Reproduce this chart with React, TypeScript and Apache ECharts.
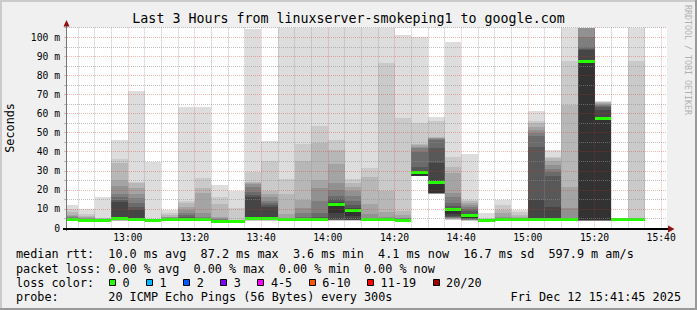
import React, { useEffect, useRef } from "react";
import * as echarts from "echarts";

// ---------- data ----------
const title = "Last 3 Hours from linuxserver-smokeping1 to google.com";
const windowStart = "12:41:45";
const windowEnd = "15:41:45";
const stepMinutes = 5;

// start of each 5-minute step (20 pings per step, sorted, in ms)
const slotStarts = [
  "12:40", "12:45", "12:50", "12:55", "13:00", "13:05", "13:10", "13:15", "13:20", "13:25",
  "13:30", "13:35", "13:40", "13:45", "13:50", "13:55", "14:00", "14:05", "14:10", "14:15",
  "14:20", "14:25", "14:30", "14:35", "14:40", "14:45", "14:50", "14:55", "15:00", "15:05",
  "15:10", "15:15", "15:20", "15:25", "15:30",
];

const pings: number[][] = [
  [3.5, 3.6, 3.7, 3.8, 3.9, 3.9, 4.0, 4.0, 4.1, 4.1, 4.2, 4.3, 4.5, 5.0, 6.0, 6.5, 7.0, 8.5, 10.0, 12.0],
  [3.6, 3.7, 3.8, 3.8, 3.9, 3.9, 4.0, 4.0, 4.0, 4.1, 4.1, 4.2, 4.3, 4.5, 4.8, 5.2, 5.8, 6.5, 7.3, 9.8],
  [3.6, 3.7, 3.8, 3.8, 3.9, 3.9, 4.0, 4.0, 4.0, 4.1, 4.1, 4.1, 4.2, 4.3, 4.4, 4.5, 4.7, 5.0, 5.3, 16.3],
  [3.7, 3.8, 3.9, 4.0, 4.1, 4.2, 4.3, 4.4, 4.5, 4.7, 4.9, 13.5, 14.8, 16.4, 18.0, 22.0, 25.0, 34.0, 36.0, 46.0],
  [3.7, 3.8, 3.9, 4.0, 4.0, 4.1, 4.2, 4.3, 4.4, 4.5, 4.6, 9.5, 11.2, 13.0, 15.5, 18.0, 21.0, 23.5, 24.3, 72.0],
  [3.6, 3.7, 3.8, 3.8, 3.9, 3.9, 4.0, 4.0, 4.0, 4.1, 4.1, 4.1, 4.2, 4.2, 4.3, 4.3, 4.4, 4.5, 4.7, 34.4],
  [3.6, 3.7, 3.8, 3.8, 3.9, 3.9, 4.0, 4.0, 4.0, 4.1, 4.2, 4.3, 4.5, 4.8, 5.2, 5.6, 6.0, 6.8, 8.0, 9.4],
  [3.6, 3.7, 3.8, 3.9, 3.9, 4.0, 4.0, 4.1, 4.1, 4.2, 4.3, 5.3, 6.0, 7.0, 8.0, 9.5, 11.0, 12.9, 14.1, 63.6],
  [3.6, 3.7, 3.8, 3.9, 3.9, 4.0, 4.0, 4.1, 4.1, 4.2, 4.3, 4.6, 4.9, 5.3, 6.0, 8.0, 18.5, 21.0, 26.4, 63.6],
  [3.2, 3.3, 3.3, 3.4, 3.4, 3.5, 3.5, 3.5, 3.5, 3.6, 3.6, 3.7, 3.8, 4.0, 4.5, 5.5, 6.0, 12.4, 16.3, 22.7],
  [3.2, 3.3, 3.3, 3.4, 3.4, 3.5, 3.5, 3.5, 3.5, 3.6, 3.6, 3.6, 3.7, 3.7, 3.8, 3.9, 4.0, 4.2, 10.3, 19.2],
  [3.8, 3.9, 4.0, 4.1, 4.2, 4.3, 4.4, 4.6, 4.8, 5.0, 5.2, 16.5, 17.5, 19.0, 21.5, 23.0, 23.5, 24.0, 29.5, 104.1],
  [3.8, 3.9, 4.0, 4.1, 4.2, 4.3, 4.4, 4.5, 4.6, 4.7, 4.8, 11.0, 12.2, 13.0, 14.0, 16.0, 18.0, 19.3, 35.3, 45.6],
  [3.6, 3.7, 3.8, 3.9, 3.9, 4.0, 4.0, 4.1, 4.1, 4.2, 4.3, 4.5, 4.6, 4.8, 5.0, 5.5, 7.3, 17.7, 25.5, 110],
  [3.6, 3.7, 3.8, 3.9, 3.9, 4.0, 4.0, 4.1, 4.2, 4.3, 4.4, 4.8, 5.3, 6.0, 7.7, 10.3, 14.7, 35.1, 44.0, 110],
  [3.6, 3.7, 3.8, 3.9, 3.9, 4.0, 4.1, 4.2, 4.3, 4.3, 4.4, 5.0, 6.0, 8.0, 13.9, 20.8, 25.2, 44.4, 53.5, 110],
  [3.8, 3.9, 4.0, 4.0, 4.1, 4.2, 4.3, 4.4, 4.5, 7.7, 12.1, 13.5, 15.0, 17.0, 19.9, 23.4, 33.5, 40.9, 46.1, 110],
  [3.8, 3.9, 4.0, 4.0, 4.1, 4.1, 4.2, 4.2, 4.3, 6.3, 9.4, 10.3, 12.0, 14.2, 17.0, 19.4, 21.5, 23.4, 25.8, 110],
  [3.6, 3.7, 3.8, 3.9, 3.9, 4.0, 4.0, 4.1, 4.2, 4.2, 4.3, 4.5, 4.7, 5.0, 5.5, 7.3, 12.4, 26.9, 31.6, 110],
  [3.6, 3.7, 3.8, 3.9, 3.9, 4.0, 4.0, 4.1, 4.1, 4.2, 4.2, 4.4, 4.6, 4.8, 5.2, 6.0, 8.5, 19.4, 86.7, 110],
  [3.5, 3.6, 3.6, 3.7, 3.7, 3.8, 3.8, 3.9, 3.9, 4.0, 4.0, 4.2, 4.4, 4.6, 5.0, 5.5, 7.0, 9.0, 57.5, 101.2],
  [27.0, 27.0, 27.1, 27.1, 27.2, 27.2, 27.3, 27.3, 27.4, 27.5, 28.9, 29.6, 32.2, 40.0, 42.0, 42.5, 43.6, 44.0, 54.9, 100.3],
  [17.6, 17.7, 17.8, 17.9, 18.0, 18.1, 18.2, 18.3, 18.4, 18.5, 23.9, 33.9, 41.8, 46.0, 46.5, 47.0, 47.3, 47.6, 56.2, 58.4],
  [4.2, 4.4, 4.6, 4.8, 5.0, 5.3, 5.6, 6.0, 6.5, 7.5, 9.5, 10.3, 11.5, 13.3, 16.0, 18.2, 28.7, 32.2, 37.4, 97.6],
  [3.8, 3.9, 4.0, 4.1, 4.2, 4.3, 4.5, 4.8, 5.1, 5.5, 6.4, 7.5, 8.8, 10.0, 11.0, 12.0, 13.0, 14.0, 14.7, 38.7],
  [3.6, 3.7, 3.8, 3.8, 3.9, 3.9, 4.0, 4.0, 4.0, 4.1, 4.1, 4.1, 4.2, 4.2, 4.3, 4.3, 4.4, 4.5, 5.3, 8.0],
  [3.6, 3.7, 3.8, 3.8, 3.9, 3.9, 4.0, 4.0, 4.1, 4.1, 4.2, 4.4, 4.6, 4.8, 5.3, 6.0, 7.7, 9.4, 12.0, 14.7],
  [3.6, 3.7, 3.8, 3.8, 3.9, 3.9, 4.0, 4.0, 4.1, 4.1, 4.2, 4.3, 4.4, 4.5, 4.7, 5.0, 5.6, 6.8, 8.4, 9.6],
  [3.6, 3.7, 3.8, 3.8, 3.9, 3.9, 4.0, 4.0, 4.1, 4.2, 4.3, 14.7, 42.6, 48.3, 50.0, 51.5, 53.0, 55.0, 56.0, 61.1],
  [3.6, 3.7, 3.8, 3.8, 3.9, 3.9, 4.0, 4.0, 4.1, 4.2, 4.3, 11.2, 27.0, 29.5, 31.0, 33.0, 35.0, 36.5, 37.4, 41.0],
  [3.6, 3.7, 3.8, 3.8, 3.9, 3.9, 4.0, 4.0, 4.1, 4.1, 4.2, 4.3, 4.4, 4.5, 4.6, 10.3, 21.7, 64.4, 87.6, 110],
  [3.6, 3.7, 3.8, 3.8, 3.9, 3.9, 4.0, 4.0, 4.1, 4.2, 87.2, 93.4, 94.0, 94.8, 100.3, 106, 110, 110, 110, 110],
  [3.6, 3.7, 3.8, 3.8, 3.9, 3.9, 4.0, 4.0, 4.1, 4.2, 57.5, 61.7, 63.5, 64.0, 64.5, 65.0, 65.5, 65.8, 66.1, 66.6],
  [3.8, 3.9, 3.9, 4.0, 4.0, 4.0, 4.1, 4.1, 4.1, 4.1, 4.2, 4.2, 4.2, 4.3, 4.3, 4.3, 4.4, 4.4, 4.5, 4.6],
  [3.6, 3.7, 3.8, 3.8, 3.9, 3.9, 4.0, 4.0, 4.1, 4.1, 4.2, 4.2, 4.3, 4.3, 4.4, 4.4, 4.5, 4.5, 87.6, 110],
];

const xLabelTimes = ["13:00", "13:20", "13:40", "14:00", "14:20", "14:40", "15:00", "15:20", "15:40"];
const yLabelValues = [0, 10, 20, 30, 40, 50, 60, 70, 80, 90, 100];
const yMax = 105;

const rttLine = "median rtt:  10.0 ms avg  87.2 ms max  3.6 ms min  4.1 ms now  16.7 ms sd  597.9 m am/s";
const lossLine = "packet loss: 0.00 % avg  0.00 % max  0.00 % min  0.00 % now";
const lossColorLabel = "loss color:";
const lossColorNames = ["0", "1", "2", "3", "4-5", "6-10", "11-19", "20/20"];
const lossColorValues = ["#26ff00", "#00b8ff", "#0059ff", "#7e00ff", "#ff00ff", "#ff5500", "#ff0000", "#a10000"];
const probeLine = "probe:       20 ICMP Echo Pings (56 Bytes) every 300s";
const stampText = "Fri Dec 12 15:41:45 2025";
const watermark = "RRDTOOL / TOBI OETIKER";

// ---------- helpers ----------
const FONT = '"DejaVu Sans Mono", monospace';
const SMOKE = ["#dddddd", "#cacaca", "#b7b7b7", "#a4a4a4", "#919191", "#7e7e7e", "#6b6b6b", "#585858", "#454545", "#323232"];
const GRID_C = "rgba(143,143,143,0.56)";
const MGRID_C = "rgba(222,48,47,0.35)";
const CW = 7.1;

const toMin = (s: string) => {
  const p = s.split(":").map(Number);
  return p[0] * 60 + p[1] + (p[2] || 0) / 60;
};
const fmtTime = (v: number) => {
  const h = Math.floor(v / 60);
  const m = Math.round(v - h * 60);
  return `${h}:${m < 10 ? "0" + m : m}`;
};

function lineTexts(str: string, y: number, x0 = 16) {
  const out: any[] = [];
  const re = /\S+(?: \S+)*/g;
  let m: RegExpExecArray | null;
  while ((m = re.exec(str))) {
    out.push({
      type: "text",
      x: x0 + m.index * CW,
      y,
      z: 10,
      style: { text: m[0], fill: "#000", font: `11.8px ${FONT}`, textAlign: "left", textVerticalAlign: "middle", verticalAlign: "middle" },
    });
  }
  return out;
}

export default function App() {
  const ref = useRef<HTMLDivElement>(null);

  useEffect(() => {
    if (!ref.current) return;
    const chart = echarts.init(ref.current, null, { renderer: "svg" });

    const xMin = toMin(windowStart);
    const xMax = toMin(windowEnd);
    const majorX = xLabelTimes.map(toMin);
    const minorX: number[] = [];
    for (let m = Math.ceil(xMin / 5) * 5; m <= xMax; m += 5) if (majorX.indexOf(m) < 0) minorX.push(m);
    const majorY = yLabelValues.filter((v) => v > 0);
    const minorY: number[] = [];
    for (let v = 5; v <= yMax; v += 10) minorY.push(v);

    const data = slotStarts.map((s, i) => [toMin(s), ...pings[i]]);

    const renderItem = (params: any, api: any) => {
      const cs = params.coordSys;
      const start = api.value(0);
      let x0 = Math.round(api.coord([start, 0])[0]);
      const x1 = Math.round(api.coord([start + stepMinutes, 0])[0]);
      x0 = Math.max(x0, Math.round(cs.x));
      const top = cs.y;
      const children: any[] = [];
      for (let j = 0; j < 19; j++) {
        const lo = api.value(1 + j);
        const hi = api.value(2 + j);
        let yLo = Math.round(api.coord([start, lo])[1]);
        let yHi = Math.round(api.coord([start, hi])[1]);
        if (yLo <= top) continue;
        yHi = Math.max(yHi, Math.round(top));
        if (yLo - yHi <= 0) continue;
        const depth = Math.min(j, 18 - j);
        children.push({
          type: "rect",
          shape: { x: x0, y: yHi, width: x1 - x0, height: yLo - yHi },
          style: { fill: SMOKE[depth] },
        });
      }
      const med = api.value(11);
      if (med <= yMax) {
        const ym = api.coord([start, med])[1];
        children.push({
          type: "rect",
          shape: { x: x0, y: Math.round(ym - 1.5), width: x1 - x0, height: 3 },
          style: { fill: lossColorValues[0] },
        });
      }
      return { type: "group", children };
    };

    // legend row with colour boxes
    const legendBoxes: any[] = [];
    let lx = 16 + 15 * CW;
    lossColorNames.forEach((name, i) => {
      const bx = Math.round(lx - 13.5) + 0.5;
      legendBoxes.push({
        type: "rect",
        z: 10,
        shape: { x: bx, y: 279.5, width: 6, height: 6 },
        style: { fill: lossColorValues[i], stroke: "#000", lineWidth: 1 },
      });
      legendBoxes.push({
        type: "text",
        x: lx,
        y: 282.5,
        z: 10,
        style: { text: name, fill: "#000", font: `11.8px ${FONT}`, textAlign: "left", textVerticalAlign: "middle", verticalAlign: "middle" },
      });
      lx += name.length * CW + 30;
    });

    const graphic: any[] = [
      // frame
      { type: "rect", z: 10, shape: { x: 0, y: 0, width: 697, height: 2 }, style: { fill: "#cbcbcb" } },
      { type: "rect", z: 10, shape: { x: 0, y: 0, width: 2, height: 310 }, style: { fill: "#cbcbcb" } },
      { type: "rect", z: 10, shape: { x: 0, y: 308, width: 697, height: 2 }, style: { fill: "#999999" } },
      { type: "rect", z: 10, shape: { x: 695, y: 0, width: 2, height: 310 }, style: { fill: "#999999" } },
      // title
      {
        type: "text", x: 348.5, y: 18.5, z: 10,
        style: { text: title, fill: "#000", font: `13.3px ${FONT}`, textAlign: "center", textVerticalAlign: "middle", verticalAlign: "middle" },
      },
      // vertical axis title
      {
        type: "text", x: 10, y: 127.9, z: 10, rotation: Math.PI / 2,
        style: { text: "Seconds", fill: "#000", font: `11.8px ${FONT}`, textAlign: "center", textVerticalAlign: "middle", verticalAlign: "middle" },
      },
      // watermark
      {
        type: "text", x: 688, y: 60, z: 10, rotation: -Math.PI / 2,
        style: { text: watermark, fill: "#b0b0b0", font: `8.3px ${FONT}`, textAlign: "center", textVerticalAlign: "middle", verticalAlign: "middle" },
      },
      // axes
      { type: "line", z: 10, shape: { x1: 66.5, y1: 231, x2: 66.5, y2: 24 }, style: { stroke: "#777777", lineWidth: 1 } },
      { type: "line", z: 10, shape: { x1: 63, y1: 229, x2: 670, y2: 229 }, style: { stroke: "#000000", lineWidth: 2 } },
      { type: "polygon", z: 11, shape: { points: [[63.5, 26.5], [69.5, 26.5], [66.5, 20]] }, style: { fill: "#8f1010" } },
      { type: "polygon", z: 11, shape: { points: [[668, 225.5], [668, 232.5], [674.5, 229]] }, style: { fill: "#8f1010" } },
      // legend
      ...lineTexts(rttLine, 254),
      ...lineTexts(lossLine, 268.5),
      ...lineTexts(lossColorLabel, 282.5),
      ...legendBoxes,
      ...lineTexts(probeLine, 296.7),
      {
        type: "text", x: 681, y: 296.7, z: 10,
        style: { text: stampText, fill: "#000", font: `11.8px ${FONT}`, textAlign: "right", textVerticalAlign: "middle", verticalAlign: "middle" },
      },
    ];

    const option: any = {
      animation: false,
      backgroundColor: "#f0f0f0",
      grid: { left: 67, right: 30, top: 27.7, bottom: 82, show: true, backgroundColor: "#ffffff", borderWidth: 0 },
      xAxis: [
        {
          type: "value", min: xMin, max: xMax, position: "bottom", z: 3,
          axisLine: { show: false },
          axisTick: { show: false, customValues: minorX },
          axisLabel: { show: false },
          splitLine: { show: true, lineStyle: { color: GRID_C, type: [1, 1], width: 1 } },
        },
        {
          type: "value", min: xMin, max: xMax, position: "bottom", z: 4,
          axisLine: { show: false },
          axisTick: { show: false, customValues: majorX },
          axisLabel: {
            show: true, customValues: majorX, formatter: (v: number) => fmtTime(v),
            margin: 4, color: "#000", fontFamily: FONT, fontSize: 9.7,
          },
          splitLine: { show: true, lineStyle: { color: MGRID_C, type: [1, 1], width: 1 } },
        },
      ],
      yAxis: [
        {
          type: "value", min: 0, max: yMax, position: "left", z: 3,
          axisLine: { show: false },
          axisTick: { show: true, length: 3, customValues: minorY, lineStyle: { color: GRID_C } },
          axisLabel: { show: false },
          splitLine: { show: true, lineStyle: { color: GRID_C, type: [1, 1], width: 1 } },
        },
        {
          type: "value", min: 0, max: yMax, position: "left", z: 4,
          axisLine: { show: false },
          axisTick: { show: true, length: 3, customValues: majorY, lineStyle: { color: MGRID_C } },
          axisLabel: {
            show: true, customValues: yLabelValues,
            formatter: (v: number) => (v === 0 ? "0" : `${v} m`),
            margin: 7, color: "#000", fontFamily: FONT, fontSize: 9.7,
          },
          splitLine: { show: true, lineStyle: { color: MGRID_C, type: [1, 1], width: 1 } },
        },
      ],
      series: [
        {
          type: "custom",
          xAxisIndex: 0,
          yAxisIndex: 0,
          z: 1,
          clip: true,
          renderItem,
          encode: { x: 0, y: Array.from({ length: 20 }, (_, k) => k + 1) },
          data,
        },
      ],
      graphic,
    };

    chart.setOption(option);
    return () => chart.dispose();
  }, []);

  return (
    <div
      ref={ref}
      style={{ position: "absolute", left: 0, top: 0, width: 697, height: 310 }}
    />
  );
}
